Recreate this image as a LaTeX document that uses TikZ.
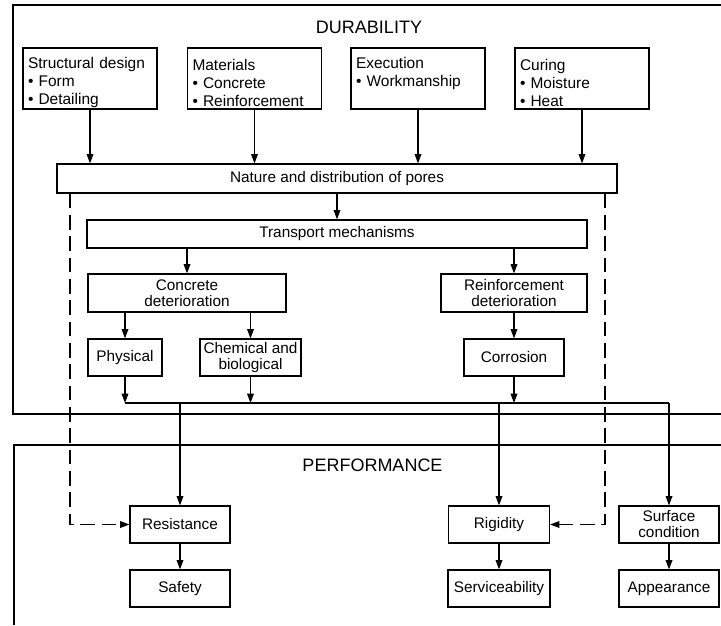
\documentclass[tikz,border=0pt]{standalone}
\usepackage{fontspec}
\setmainfont{Liberation Sans}
\usetikzlibrary{arrows.meta}
\newcommand{\topstrut}{\rule{0pt}{14.5pt}}
\begin{document}
\begin{tikzpicture}[x=0.75pt,y=-0.75pt,
  every node/.style={font=\fontsize{11.5}{12}\selectfont},
  box/.style={draw, line width=0.9pt, inner sep=0pt, align=center},
  topbox/.style={box, minimum width=100.5pt, minimum height=45.75pt, text width=93pt, align=left,
     font=\fontsize{11.6}{13.5}\selectfont},
  title/.style={anchor=base, font=\fontsize{13.5}{16}\selectfont},
  frame/.style={line width=0.9pt},
  arr/.style={-{Triangle[length=7pt,width=5pt]}, line width=0.9pt},
  dsh/.style={arr, dash pattern=on 11pt off 5pt}]
\useasboundingbox (0,0) rectangle (721,625);

% frames
\draw[frame] (721,5) -- (13,5) -- (13,414) -- (721,414);
\draw[frame] (721,445) -- (14,445) -- (14,625);
\node[title] (dur) at (369,33) {DURABILITY};
\node[title] (perf) at (372.5,471) {PERFORMANCE};

% top row
\node[topbox] (sd)  at (90,78.5)  {\topstrut Structural design\\ \textbullet~Form\\ \textbullet~Detailing};
\node[topbox] (mat) at (254.5,78.5) {\topstrut Materials\\ \textbullet~Concrete\\ \textbullet~Reinforcement};
\node[topbox] (exe) at (418,78.5) {\topstrut Execution\\ \textbullet~Workmanship\\ \mbox{}\rule[-3pt]{0pt}{3pt}};
\node[topbox] (cur) at (582,78.5) {\topstrut Curing\\ \textbullet~Moisture\\ \textbullet~Heat};

\node[box, minimum width=420pt, minimum height=21.75pt] (nat) at (337,178.5) {Nature and distribution of pores};
\node[box, minimum width=375pt, minimum height=21pt] (tr) at (337,234) {Transport mechanisms};

\node[box, minimum width=148.5pt, minimum height=28.5pt] (cd) at (187,293) {Concrete\\deterioration};
\node[box, minimum width=109.5pt, minimum height=28.5pt] (rd) at (514,293) {Reinforcement\\deterioration};

\node[box, minimum width=55.5pt, minimum height=27.75pt] (phy) at (125,357.5) {Physical};
\node[box, minimum width=75.75pt, minimum height=27.75pt] (chem) at (250.5,357.5) {Chemical and\\biological};
\node[box, minimum width=75pt, minimum height=27.75pt] (cor) at (514,357.5) {Corrosion};

% performance boxes
\node[box, minimum width=75pt, minimum height=27.75pt] (res) at (180,524.5) {Resistance};
\node[box, minimum width=75pt, minimum height=27.75pt] (saf) at (180,588.5) {Safety};
\node[box, minimum width=75.75pt, minimum height=27.75pt] (rig) at (499,524.5) {Rigidity};
\node[box, minimum width=76.5pt, minimum height=27.75pt] (ser) at (499,588.5) {Serviceability};
\node[box, minimum width=75pt, minimum height=27.75pt] (sur) at (669,524.5) {Surface\\condition};
\node[box, minimum width=75pt, minimum height=27.75pt] (app) at (669,588.5) {Appearance};

% arrows top
\foreach \n in {sd,mat,exe,cur} \draw[arr] (\n.south) -- (\n.south |- nat.north);
\draw[arr] (nat.south) -- (tr.north);
\draw[arr] (tr.south -| cd.north) -- (cd.north);
\draw[arr] (tr.south -| rd.north) -- (rd.north);
\draw[arr] (cd.south -| phy.north) -- (phy.north);
\draw[arr] (cd.south -| chem.north) -- (chem.north);
\draw[arr] (rd.south) -- (cor.north);

% bus
\coordinate (busL) at (125,403);
\coordinate (busR) at (669,403);
\draw[line width=0.9pt] (busL) -- (busR);
\draw[arr] (phy.south) -- (phy.south |- busL);
\draw[arr] (chem.south) -- (chem.south |- busL);
\draw[arr] (cor.south) -- (cor.south |- busL);
\draw[arr] (res.north |- busL) -- (res.north);
\draw[arr] (rig.north |- busL) -- (rig.north);
\draw[arr] (busR) -- (sur.north);

\draw[arr] (res) -- (saf);
\draw[arr] (rig) -- (ser);
\draw[arr] (sur) -- (app);

% dashed
\coordinate (dl) at (70,524.5);
\coordinate (dr) at (605,524.5);
\draw[dsh] (nat.south -| dl) -- (dl) -- (res.west);
\draw[dsh] (nat.south -| dr) -- (dr) -- (rig.east);
\end{tikzpicture}
\end{document}
